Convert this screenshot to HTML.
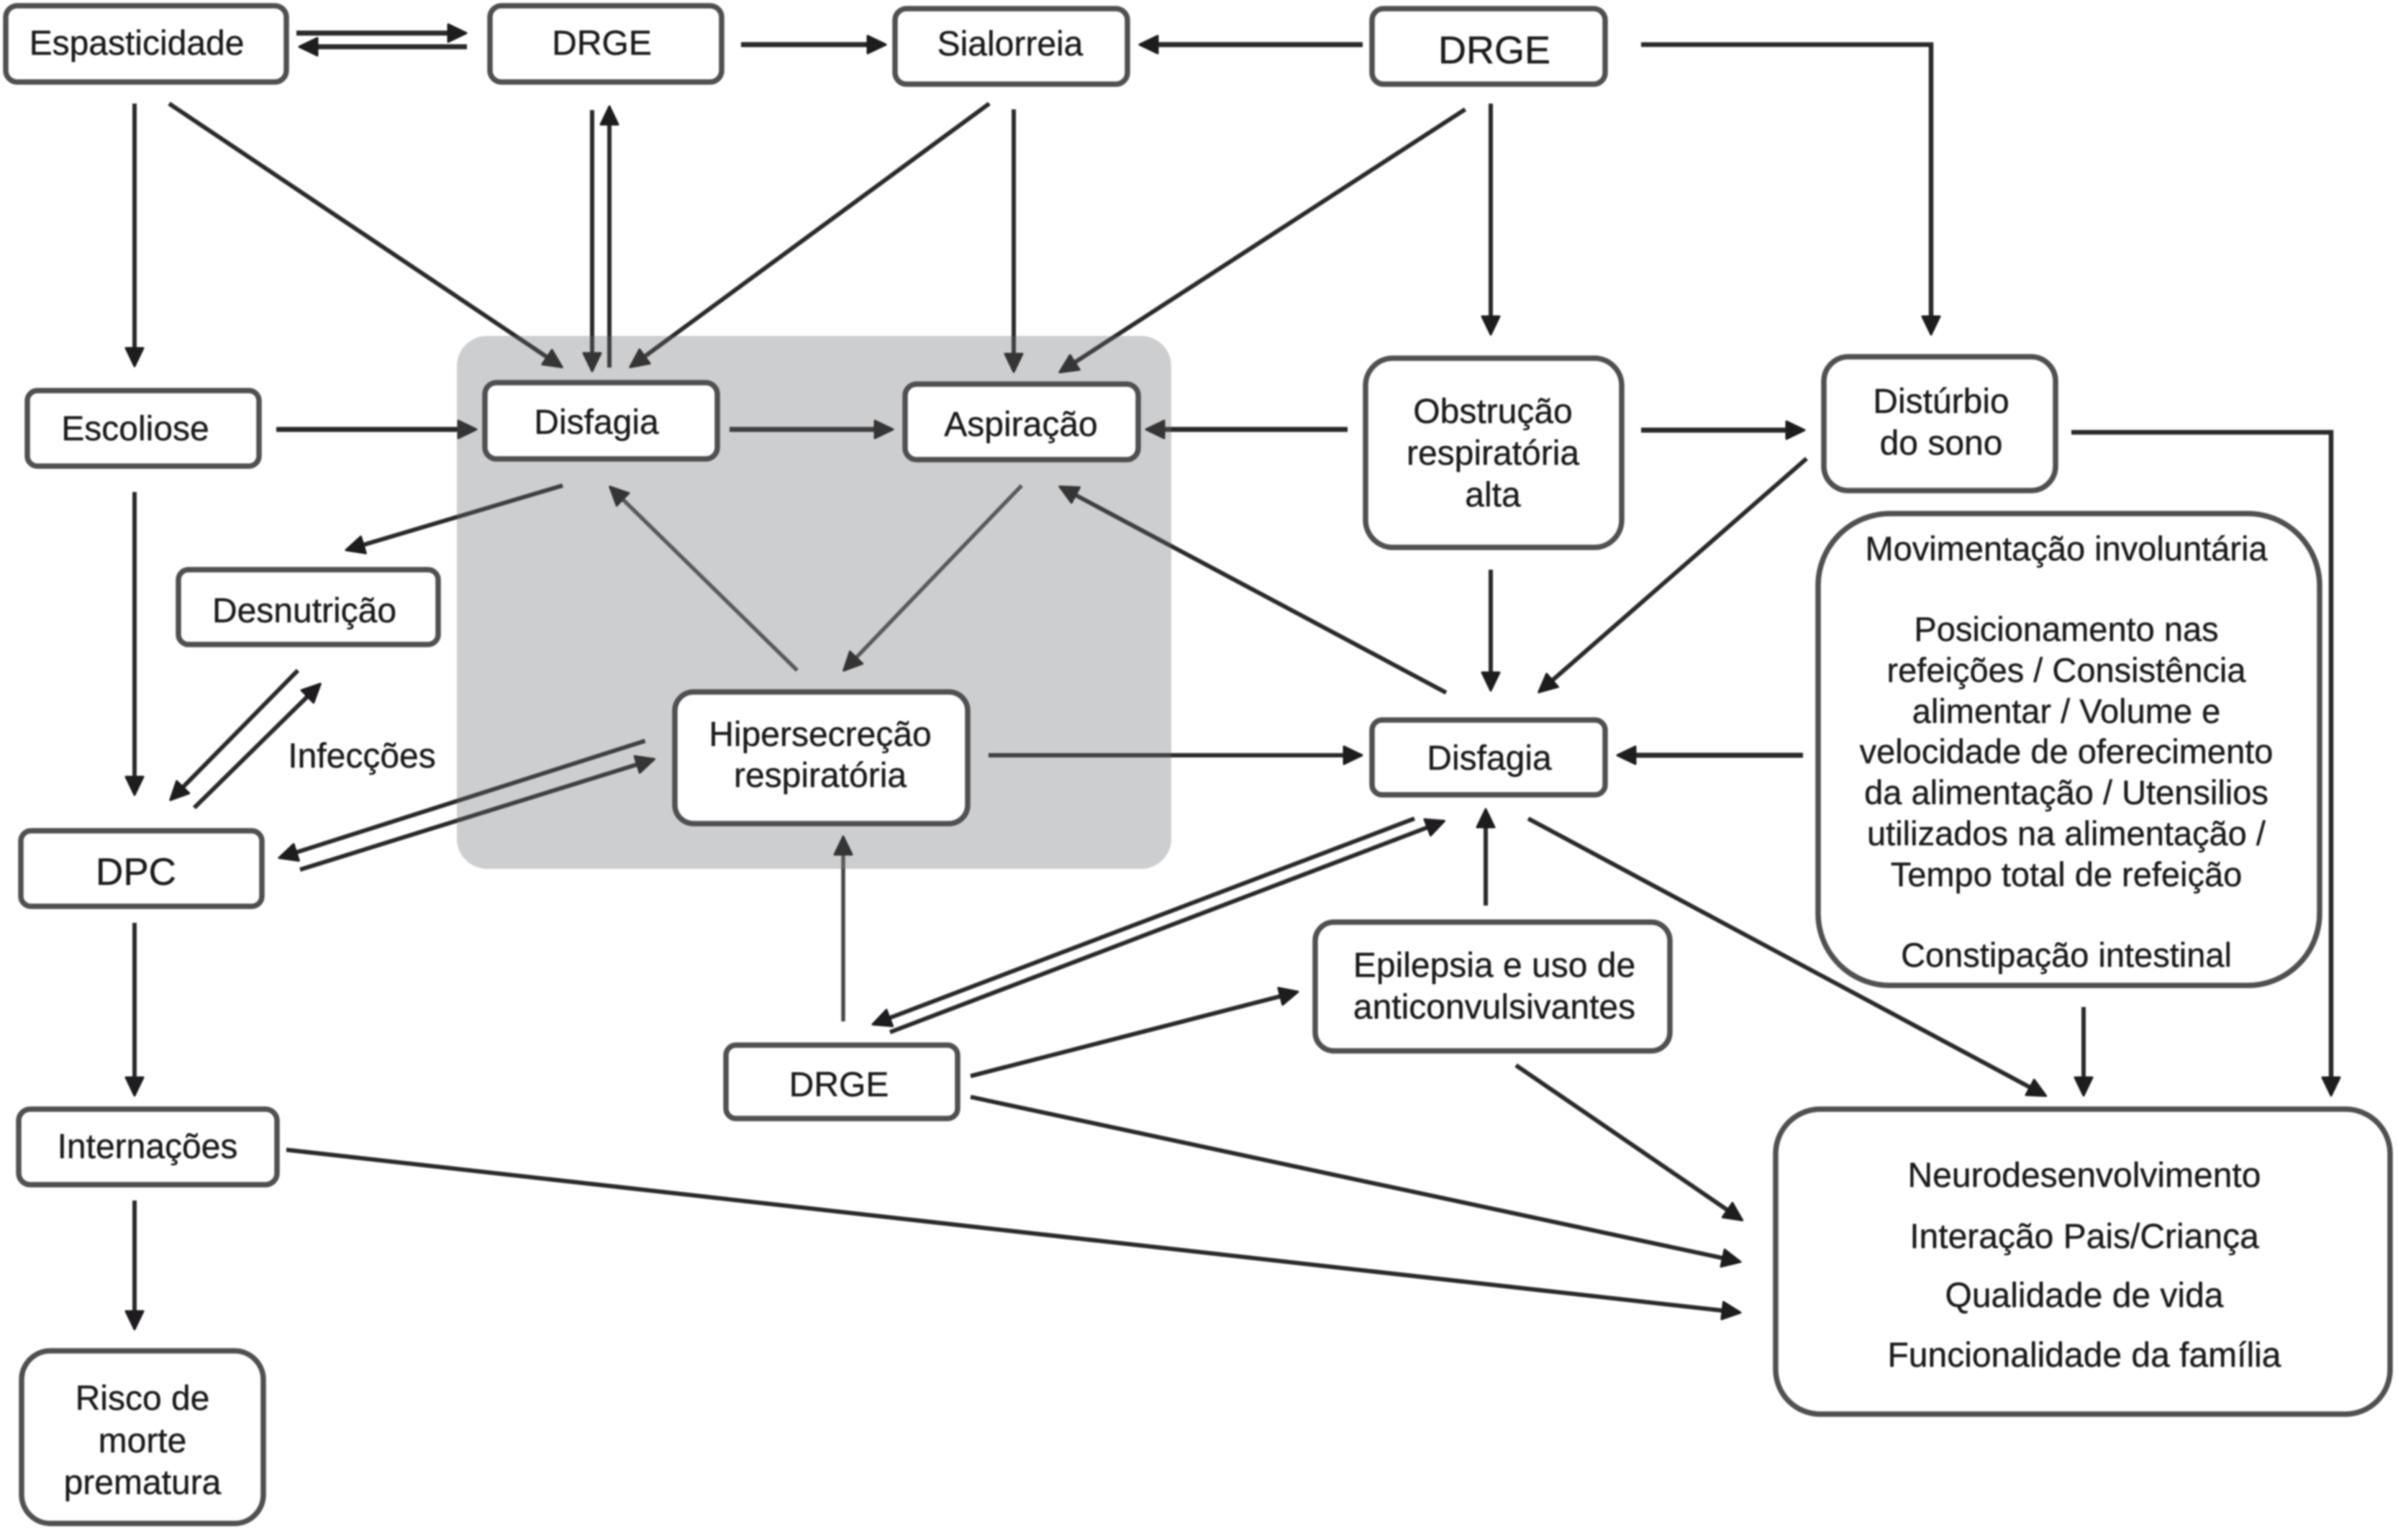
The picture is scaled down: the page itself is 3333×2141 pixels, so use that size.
<!DOCTYPE html>
<html lang="pt">
<head>
<meta charset="utf-8">
<title>Diagrama</title>
<style>
html,body{margin:0;padding:0;background:#fff;width:3333px;height:2141px;overflow:hidden}
svg{display:block;filter:blur(1px)}
.b{fill:#fff;stroke:#505052;stroke-width:7.5}
.l{fill:none;stroke:#2a292b;stroke-width:6;marker-end:url(#a)}
.h{stroke-width:7}
.g{stroke:#47474a;stroke-width:5.5}
text{font-family:"Liberation Sans",sans-serif;font-size:48px;fill:#1c1a1b;text-anchor:middle;stroke:#1c1a1b;stroke-width:.4}
</style>
</head>
<body>
<svg xmlns="http://www.w3.org/2000/svg" width="3333" height="2141" viewBox="0 0 3333 2141">
<defs>
<marker id="a" markerUnits="userSpaceOnUse" markerWidth="34" markerHeight="34" refX="14" refY="15" orient="auto" overflow="visible">
<path d="M2,3 L27,15 L2,27 Z" fill="#1e1c1e" stroke="#1e1c1e" stroke-width="3" stroke-linejoin="round"/>
</marker>
</defs>
<rect width="3333" height="2141" fill="#fff"/>
<rect x="635" y="467" width="993" height="741" rx="42" fill="#cdced0"/>

<!-- connectors -->
<line class="l h" x1="412" y1="46" x2="635" y2="46"/>
<line class="l h" x1="649" y1="65" x2="429" y2="65"/>
<line class="l h" x1="1030" y1="62" x2="1218" y2="62"/>
<line class="l h" x1="1894" y1="62" x2="1597" y2="62"/>
<path class="l" style="stroke-width:6.5" d="M2281,62 H2684 V452"/>
<line class="l" x1="187" y1="144" x2="187" y2="496"/>
<line class="l" x1="235" y1="144" x2="770.4" y2="503.2"/>
<line class="l" x1="823" y1="153" x2="823" y2="503"/>
<line class="l" x1="847" y1="511" x2="847" y2="161"/>
<line class="l" x1="1375" y1="144" x2="886.3" y2="502.7"/>
<line class="l" x1="1409" y1="152" x2="1409" y2="504"/>
<line class="l" x1="2036.5" y1="152" x2="1483.7" y2="510.4"/>
<line class="l" x1="2072" y1="144" x2="2072" y2="452"/>
<line class="l h" x1="384" y1="597" x2="649" y2="597"/>
<line class="l h" x1="1014" y1="597" x2="1228" y2="597"/>
<line class="l h" x1="1873" y1="597" x2="1606" y2="597"/>
<line class="l h" x1="2281" y1="598" x2="2495" y2="598"/>
<path class="l" style="stroke-width:6.5" d="M2879,601 H3240 V1510"/>
<line class="l" x1="2511" y1="637.5" x2="2148.5" y2="953.8"/>
<line class="l" x1="2072" y1="792" x2="2072" y2="947"/>
<line class="l" x1="782" y1="675" x2="493.4" y2="761"/>
<line class="l g" x1="1108" y1="932" x2="857" y2="685.8"/>
<line class="l g" x1="1420" y1="675" x2="1181.7" y2="922.9"/>
<line class="l" x1="2010" y1="963" x2="1484.3" y2="682.6"/>
<line class="l" x1="1374" y1="1050" x2="1880" y2="1050"/>
<line class="l h" x1="2506" y1="1050" x2="2261" y2="1050"/>
<line class="l" x1="187" y1="684" x2="187" y2="1092"/>
<line class="l" x1="414" y1="932" x2="245.8" y2="1103"/>
<line class="l" x1="270" y1="1123" x2="436" y2="959.8"/>
<line class="l" x1="896.5" y1="1030" x2="400.3" y2="1188.7"/>
<line class="l" x1="417" y1="1209" x2="897.1" y2="1059.2"/>
<line class="l" x1="187" y1="1283" x2="187" y2="1510"/>
<line class="l" x1="187" y1="1669" x2="187" y2="1835"/>
<line class="l" x1="398" y1="1598.5" x2="2406.1" y2="1823.4"/>
<line class="l g" x1="1172" y1="1420" x2="1172" y2="1176"/>
<line class="l" x1="1966" y1="1138" x2="1225.1" y2="1419.5"/>
<line class="l" x1="1237" y1="1435" x2="1995.4" y2="1146"/>
<line class="l" x1="1349" y1="1496" x2="1791.4" y2="1382.1"/>
<line class="l" x1="2065" y1="1259" x2="2065" y2="1138"/>
<line class="l" x1="2124" y1="1138" x2="2832.2" y2="1517.4"/>
<line class="l" x1="2896" y1="1400" x2="2896" y2="1510"/>
<line class="l" x1="2107" y1="1481" x2="2411" y2="1689.1"/>
<line class="l" x1="1349" y1="1525" x2="2406.3" y2="1751.6"/>
<rect x="635" y="467" width="993" height="741" rx="42" fill="#cdced0" opacity=".14"/>

<!-- boxes -->
<rect class="b" x="8" y="8" width="390" height="106" rx="16"/>
<rect class="b" x="681" y="8" width="322" height="106" rx="16"/>
<rect class="b" x="1244" y="12" width="323" height="105" rx="16"/>
<rect class="b" x="1907" y="12" width="324" height="105" rx="16"/>
<rect class="b" x="38" y="543" width="322" height="105" rx="14"/>
<rect class="b" x="674" y="532" width="323" height="106" rx="16"/>
<rect class="b" x="1258" y="534" width="324" height="105" rx="16"/>
<rect class="b" x="1898" y="498" width="356" height="263" rx="38"/>
<rect class="b" x="2535" y="496" width="322" height="186" rx="34"/>
<rect class="b" x="2527" y="714" width="697" height="656" rx="100"/>
<rect class="b" x="1907" y="1001" width="324" height="104" rx="14"/>
<rect class="b" x="248" y="792" width="361" height="104" rx="14"/>
<rect class="b" x="938" y="962" width="407" height="183" rx="26"/>
<rect class="b" x="29" y="1155" width="335" height="105" rx="14"/>
<rect class="b" x="26" y="1542" width="359" height="105" rx="16"/>
<rect class="b" x="30" y="1878" width="336" height="240" rx="40"/>
<rect class="b" x="1009" y="1453" width="322" height="102" rx="14"/>
<rect class="b" x="1828" y="1282" width="493" height="179" rx="26"/>
<rect class="b" x="2468" y="1542" width="854" height="424" rx="62"/>

<!-- labels -->
<text x="190" y="76">Espasticidade</text>
<text x="836.5" y="76" style="font-size:48px">DRGE</text>
<text x="1404" y="77">Sialorreia</text>
<text x="2077" y="88" style="font-size:54px">DRGE</text>
<text x="188" y="612">Escoliose</text>
<text x="829" y="603">Disfagia</text>
<text x="1419" y="606">Aspiração</text>
<text x="2075" y="588">Obstrução</text>
<text x="2075" y="646">respiratória</text>
<text x="2075" y="704">alta</text>
<text x="2698" y="574">Distúrbio</text>
<text x="2698" y="632">do sono</text>
<text x="423" y="865">Desnutrição</text>
<text x="503" y="1067">Infecções</text>
<text x="1140" y="1037">Hipersecreção</text>
<text x="1140" y="1094">respiratória</text>
<text x="2070" y="1070">Disfagia</text>
<text x="189" y="1230" style="font-size:53px">DPC</text>
<text x="205" y="1610">Internações</text>
<text x="198" y="1960">Risco de</text>
<text x="198" y="2019">morte</text>
<text x="198" y="2077">prematura</text>
<text x="1166" y="1524" style="font-size:48px">DRGE</text>
<text x="2077" y="1358">Epilepsia e uso de</text>
<text x="2077" y="1416">anticonvulsivantes</text>
<text x="2872" y="779" style="font-size:47px">Movimentação involuntária</text>
<text x="2872" y="891" style="font-size:47px">Posicionamento nas</text>
<text x="2872" y="948" style="font-size:47px">refeições / Consistência</text>
<text x="2872" y="1005" style="font-size:47px">alimentar / Volume e</text>
<text x="2872" y="1061" style="font-size:47px">velocidade de oferecimento</text>
<text x="2872" y="1118" style="font-size:47px">da alimentação / Utensilios</text>
<text x="2872" y="1175" style="font-size:47px">utilizados na alimentação /</text>
<text x="2872" y="1232" style="font-size:47px">Tempo total de refeição</text>
<text x="2872" y="1344" style="font-size:47px">Constipação intestinal</text>
<text x="2897" y="1650">Neurodesenvolvimento</text>
<text x="2897" y="1735">Interação Pais/Criança</text>
<text x="2897" y="1817">Qualidade de vida</text>
<text x="2897" y="1900">Funcionalidade da família</text>
</svg>
</body>
</html>
